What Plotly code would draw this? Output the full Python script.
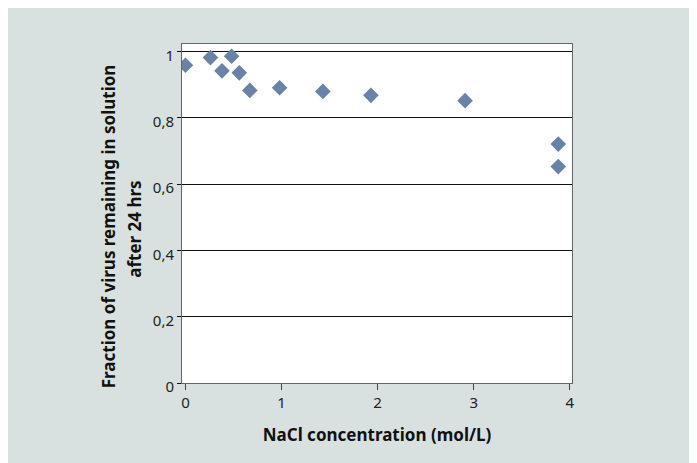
import plotly.graph_objects as go

nacl = [0.0, 0.26, 0.38, 0.48, 0.56, 0.67, 0.98, 1.43, 1.93, 2.91, 3.88, 3.88]
fraction = [0.959, 0.982, 0.942, 0.986, 0.936, 0.883, 0.891, 0.880, 0.868, 0.852, 0.721, 0.653]
x_ticks = [0, 1, 2, 3, 4]
y_ticks = [0, 0.2, 0.4, 0.6, 0.8, 1]
y_title_lines = ["Fraction of virus remaining in solution", "after 24 hrs"]
x_title = "NaCl concentration (mol/L)"

FONT = "Noto Sans"
BG = "#d9e1e0"

fig = go.Figure()
fig.add_trace(go.Scatter(
    x=nacl, y=fraction, mode="markers",
    marker=dict(symbol="diamond", size=12, color="#6882a8", line=dict(width=0)),
    hoverinfo="x+y", showlegend=False,
))

fig.update_layout(
    width=697, height=463,
    margin=dict(l=174, r=133, t=36, b=88),
    paper_bgcolor=BG, plot_bgcolor="white",
    separators=", ",
    font=dict(family=FONT, size=15, color="#222"),
    xaxis=dict(
        range=[-0.036, 4.023], tickvals=x_ticks, showgrid=False, zeroline=False,
        showline=True, linecolor="#666", linewidth=1, mirror=True,
        ticks="outside", ticklen=6, tickcolor="#444", tickwidth=1,
        tickfont=dict(size=15, color="#222"),
        title=dict(text="<b>" + x_title + "</b>", font=dict(size=17, color="#111"), standoff=18),
    ),
    yaxis=dict(
        range=[0, 1.023], tickvals=y_ticks, showgrid=True, gridcolor="#111", gridwidth=1,
        zeroline=False, showline=True, linecolor="#666", linewidth=1, mirror=True,
        ticks="outside", ticklen=4, tickcolor="#111", tickwidth=1,
        tickfont=dict(size=15, color="#222"), ticklabelshift=4,
    ),
    annotations=[
        dict(text="<b>" + y_title_lines[0] + "</b>", xref="paper", yref="paper",
             x=-0.190, y=0.462, textangle=-90, showarrow=False,
             xanchor="center", yanchor="middle", font=dict(size=17, color="#111")),
        dict(text="<b>" + y_title_lines[1] + "</b>", xref="paper", yref="paper",
             x=-0.1206, y=0.455, textangle=-90, showarrow=False,
             xanchor="center", yanchor="middle", font=dict(size=17, color="#111")),
    ],
)

fig.write_html("out.html")
